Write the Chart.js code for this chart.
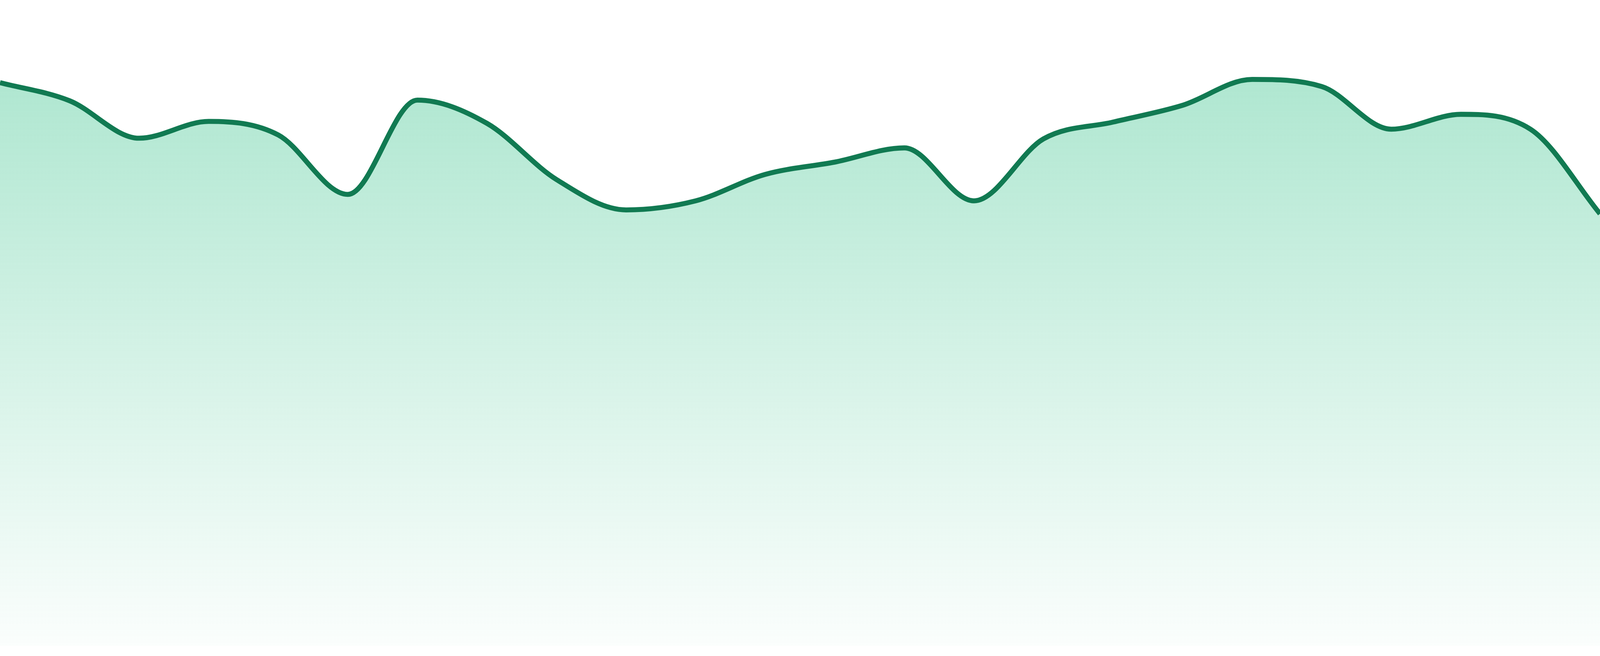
<!DOCTYPE html>
<html>
<head>
<meta charset="utf-8">
<title>Area trend</title>
<script src="https://cdn.jsdelivr.net/npm/chart.js@4.4.1/dist/chart.umd.min.js"></script>
<style>
    html, body { margin: 0; padding: 0; background: #fff; overflow: hidden; }
    #wrap { width: 100vw; height: 100vh; position: relative; }
</style>
</head>
<body>
<div id="wrap"><canvas id="area-chart"></canvas></div>
<script>
// hourly values
const hours = ['00:00', '01:00', '02:00', '03:00', '04:00', '05:00', '06:00', '07:00',
    '08:00', '09:00', '10:00', '11:00', '12:00', '13:00', '14:00', '15:00',
    '16:00', '17:00', '18:00', '19:00', '20:00', '21:00', '22:00', '23:00'];
const values = [87.2, 84.4, 78.6, 81.2, 79.1, 69.9, 84.5, 80.9,
    72.2, 67.5, 68.9, 73.0, 74.9, 77.1, 68.9, 78.5,
    81.1, 83.7, 87.7, 86.6, 80.0, 82.3, 80.0, 66.9];

// the reference was drawn on a 4800 x 1680 surface, keep sizes relative to that
const scale = window.innerWidth / 4800;
const bottomGap = Math.round(window.innerHeight * 26 / 1680);

function areaFill(context) {
    const chart = context.chart;
    const area = chart.chartArea;
    if (!area) {
        return 'rgba(40, 190, 130, 0.3)';
    }
    const grad = chart.ctx.createLinearGradient(0, area.top, 0, area.bottom);
    grad.addColorStop(0, 'rgba(40, 190, 130, 0.42)');
    grad.addColorStop(1, 'rgba(40, 190, 130, 0.02)');
    return grad;
}

const ctx = document.getElementById('area-chart').getContext('2d');
new Chart(ctx, {
    type: 'line',
    data: {
        labels: hours,
        datasets: [{
            data: values,
            borderColor: '#117a52',
            borderWidth: 15 * scale,
            backgroundColor: areaFill,
            fill: 'start',
            pointRadius: 0,
            cubicInterpolationMode: 'monotone'
        }]
    },
    options: {
        responsive: true,
        maintainAspectRatio: false,
        animation: false,
        layout: { padding: { bottom: bottomGap } },
        plugins: {
            legend: { display: false },
            tooltip: { enabled: false }
        },
        scales: {
            x: { display: false },
            y: { display: false, min: 0, max: 100 }
        }
    }
});
</script>
</body>
</html>
